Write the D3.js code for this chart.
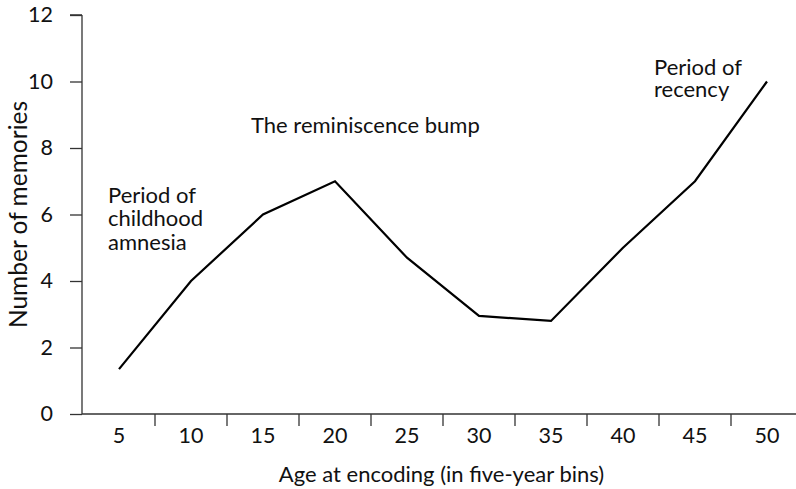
<!DOCTYPE html>
<html>
<head>
<meta charset="utf-8">
<script src="https://cdn.jsdelivr.net/npm/d3@7"></script>
<style>
  html, body { margin: 0; padding: 0; background: #fff; }
  svg text { font-family: Lato, "Open Sans", sans-serif; fill: #111; }
</style>
</head>
<body>
<svg id="chart" width="796" height="489"></svg>
<script>
// Age bins (years) and number of memories recalled per bin
const ages = [5, 10, 15, 20, 25, 30, 35, 40, 45, 50];
const memories = [1.35, 4.0, 6.0, 7.0, 4.7, 2.95, 2.8, 5.0, 7.0, 10.0];
const yTicks = [0, 2, 4, 6, 8, 10, 12];

// Text annotations: lines, anchored at the given age bin / value
const notes = [
  { lines: ["Period of", "childhood", "amnesia"], age: 5, value: 6.35, dx: -11, lh: 23.5 },
  { lines: ["The reminiscence bump"], age: 20, value: 8.45, dx: -84, lh: 23 },
  { lines: ["Period of", "recency"], age: 45, value: 10.2, dx: -41, lh: 22 }
];

const svg = d3.select("#chart");
const margin = { top: 15, left: 83, bottom: 75 };
const height = 489;

const x = d3.scaleBand()
  .domain(ages)
  .range([margin.left, margin.left + 72 * ages.length])
  .paddingInner(0).paddingOuter(0);

const y = d3.scaleLinear()
  .domain([0, 12])
  .range([height - margin.bottom, margin.top]);

const fontSize = 22;
const tickFont = 21.5;
const yTitleFont = 24.5;

// Y axis
const yAxis = svg.append("g")
  .attr("transform", `translate(${margin.left - 1},0)`)
  .call(d3.axisLeft(y).tickValues(yTicks).tickSize(12).tickPadding(17));
yAxis.select(".domain").attr("d", `M0,${y(12)}H-12M0,${y(12)}V${y(0)}`);
yAxis.attr("font-family", null).attr("font-size", null);

// X axis: baseline with separators between the bins
const xAxis = svg.append("g")
  .attr("transform", `translate(0,${y(0)})`);
xAxis.append("line")
  .attr("x1", margin.left - 1).attr("x2", 796)
  .attr("y1", 0).attr("y2", 0);
xAxis.selectAll("line.sep")
  .data(ages.slice(1))
  .join("line")
  .attr("class", "sep")
  .attr("x1", d => x(d)).attr("x2", d => x(d))
  .attr("y1", 0).attr("y2", 12);
xAxis.selectAll("text")
  .data(ages)
  .join("text")
  .attr("x", d => x(d) + x.bandwidth() / 2)
  .attr("y", 29)
  .attr("text-anchor", "middle")
  .text(d => d);
xAxis.selectAll("line").attr("stroke", "#333").attr("stroke-width", 1.3);

svg.selectAll(".tick line, .domain").attr("stroke", "#333").attr("stroke-width", 1.3).attr("fill", "none");
svg.selectAll(".tick text").attr("fill", "#111");
svg.selectAll("text").style("font-size", tickFont + "px");

// Memory curve
const line = d3.line()
  .x(d => x(d.age) + x.bandwidth() / 2)
  .y(d => y(d.value));
svg.append("path")
  .datum(ages.map((a, i) => ({ age: a, value: memories[i] })))
  .attr("fill", "none")
  .attr("stroke", "#000")
  .attr("stroke-width", 2.2)
  .attr("stroke-linejoin", "miter")
  .attr("d", line);

// Annotations
notes.forEach(n => {
  const x0 = x(n.age) + x.bandwidth() / 2 + n.dx;
  const t = svg.append("text")
    .attr("x", x0)
    .attr("y", y(n.value))
    .style("font-size", fontSize + "px");
  n.lines.forEach((l, i) => {
    t.append("tspan")
      .attr("x", x0)
      .attr("dy", i === 0 ? 0 : n.lh)
      .text(l);
  });
});

// Axis titles
svg.append("text")
  .attr("x", (margin.left + 796) / 2 + 2)
  .attr("y", 482)
  .attr("text-anchor", "middle")
  .style("font-size", fontSize + "px")
  .text("Age at encoding (in five-year bins)");

svg.append("text")
  .attr("transform", `translate(27,${(y(0) + y(12)) / 2}) rotate(-90)`)
  .attr("text-anchor", "middle")
  .style("font-size", yTitleFont + "px")
  .text("Number of memories");
</script>
</body>
</html>
